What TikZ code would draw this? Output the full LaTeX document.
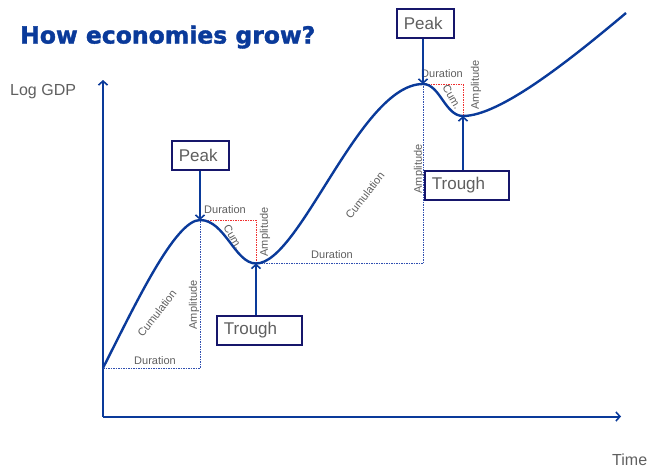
\documentclass[tikz,border=0pt]{standalone}
\usepackage{fontspec}
\setmainfont{Liberation Sans}
\newfontfamily\titlefont{DejaVu Sans}[BoldFeatures={FakeBold=1.6}]
\usetikzlibrary{arrows.meta}
\definecolor{cblue}{HTML}{0A3A9A}
\definecolor{navy}{HTML}{16166B}
\definecolor{lgray}{HTML}{5F5F5F}
\definecolor{dred}{HTML}{F03030}
\definecolor{dblue}{HTML}{3050B0}
\begin{document}
\begin{tikzpicture}[x=1pt,y=-1pt,
  axis/.style={draw=cblue,line width=2pt,-{Straight Barb[length=4pt,width=9pt,line width=1.6pt]}},
  curve/.style={draw=cblue,line width=2.4pt},
  arr/.style={draw=cblue,line width=1.9pt,-{Straight Barb[length=4pt,width=9pt,line width=1.6pt]}},
  bdot/.style={draw=dblue,line width=1pt,dash pattern=on 1.5pt off 1pt},
  rdot/.style={draw=dred,line width=1pt,dash pattern=on 1.5pt off 1pt},
  lbl/.style={font=\fontsize{11}{13}\selectfont,text=lgray,inner sep=0pt},
  big/.style={font=\fontsize{16}{19}\selectfont,text=lgray,inner sep=0pt},
  box/.style={draw=navy,line width=1.8pt,fill=white,text=lgray,font=\fontsize{17}{20}\selectfont,
    inner xsep=7pt,inner ysep=0pt,minimum height=29pt,text width=#1,align=left,anchor=north west},
]
\useasboundingbox (0,0) rectangle (651,471);

% title and axis labels
\node[anchor=base west,inner sep=0pt,text=cblue,font=\titlefont\bfseries\fontsize{23.5}{27}\selectfont] (title) at (20,43.5) {How economies grow?};
\node[big,anchor=base west] (ylab) at (10,95) {Log GDP};
\node[big,anchor=base west] (xlab) at (612,465) {Time};

% axes
\coordinate (o) at (103,416.5);
\coordinate (ytop) at (103,80);
\coordinate (xend) at (621,416.5);
\draw[axis] (o) -- (ytop);
\draw[axis] (o) -- (xend);

% curve key points
\coordinate (s) at (103,368);
\coordinate (pk1) at (200,220);
\coordinate (tr1) at (256,263.5);
\coordinate (pk2) at (423,84);
\coordinate (tr2) at (463,116);
\coordinate (e) at (626,13);

% corner points of dotted guides
\coordinate (c1) at (200,368);
\coordinate (c2) at (256,220);
\coordinate (c3) at (423,263.5);
\coordinate (c4) at (463,84);

\draw[bdot] (s) -- (c1) -- (pk1);
\draw[rdot] (pk1) -- (c2) -- (tr1);
\draw[bdot] (tr1) -- (c3) -- (pk2);
\draw[rdot] (pk2) -- (c4) -- (tr2);

\draw[curve] (s) .. controls (135,305) and (175,220) .. (pk1)
  .. controls (225,220) and (235,263.5) .. (tr1)
  .. controls (300,263.5) and (360,84) .. (pk2)
  .. controls (440,84) and (445,116) .. (tr2)
  .. controls (500,116) and (570,60) .. (e);

% labels of first expansion
\node[lbl] (d1) at (155,361) {Duration};
\node[lbl,rotate=52] (cu1) at (157,313) {Cumulation};
\node[lbl,rotate=90] (a1) at (194,305) {Amplitude};
% first contraction
\node[lbl] (d2) at (225,210) {Duration};
\node[lbl,rotate=-60] (cm2) at (233,237) {Cum.};
\node[lbl,rotate=90] (a2) at (265,232) {Amplitude};
% second expansion
\node[lbl] (d3) at (332,255) {Duration};
\node[lbl,rotate=52] (cu3) at (365,195) {Cumulation};
\node[lbl,rotate=90] (a3) at (419,169) {Amplitude};
% second contraction
\node[lbl] (d4) at (442,74) {Duration};
\node[lbl,rotate=-60] (cm4) at (452,97) {Cum.};
\node[lbl,rotate=90] (a4) at (476,85) {Amplitude};

% boxes
\node[box=43pt] (p1) at (171,140) {Peak};
\node[box=71pt] (t1) at (216,315) {Trough};
\node[box=43pt] (p2) at (396,8) {Peak};
\node[box=70pt] (t2) at (424,170) {Trough};

\draw[arr] (p1.south -| pk1) -- (pk1);
\draw[arr] (t1.north -| tr1) -- (tr1);
\draw[arr] (p2.south -| pk2) -- (pk2);
\draw[arr] (t2.north -| tr2) -- (tr2);
\end{tikzpicture}
\end{document}
